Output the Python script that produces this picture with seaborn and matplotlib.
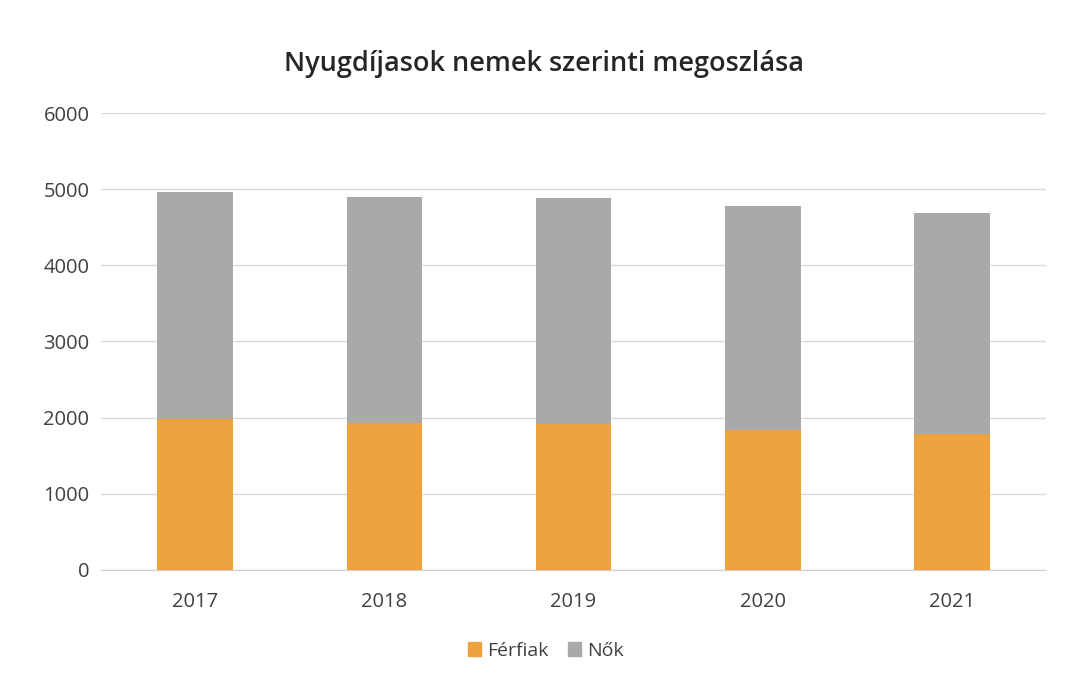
import pandas as pd
import numpy as np
import matplotlib
matplotlib.use('Agg')
import matplotlib.pyplot as plt
import seaborn as sns
from matplotlib.patches import Patch

# Data
years = ['2017', '2018', '2019', '2020', '2021']
ferfiak = [1980, 1930, 1910, 1840, 1780]
nok = [2980, 2970, 2970, 2940, 2910]

df = pd.DataFrame({'ev': years, 'Férfiak': ferfiak, 'Nők': nok})
df['osszes'] = df['Férfiak'] + df['Nők']

sns.set_style('white')
plt.rcParams['font.family'] = ['Open Sans', 'DejaVu Sans']

fig, ax = plt.subplots(figsize=(10.7, 6.85), dpi=100)
fig.subplots_adjust(left=0.094, right=0.978, top=0.835, bottom=0.168)

orange = '#EEA23F'
grey = '#A9A9A9'

# stacked: total in grey first, then men in orange on top
sns.barplot(data=df, x='ev', y='osszes', color=grey, width=0.4, saturation=1,
            linewidth=0, ax=ax)
sns.barplot(data=df, x='ev', y='Férfiak', color=orange, width=0.4, saturation=1,
            linewidth=0, ax=ax)

ax.set_ylim(0, 6000)
ax.set_yticks(np.arange(0, 6001, 1000))
ax.yaxis.grid(True, color='#DADADA', linewidth=1)
ax.set_axisbelow(True)
for s in ['top', 'right', 'left']:
    ax.spines[s].set_visible(False)
ax.spines['bottom'].set_color('#D0D0D0')
ax.set_xlabel('')
ax.set_ylabel('')
ax.tick_params(axis='y', length=0, labelsize=14.5, labelcolor='#404040', pad=8)
ax.tick_params(axis='x', length=0, labelsize=14.5, labelcolor='#404040', pad=16)

fig.suptitle('Nyugdíjasok nemek szerinti megoszlása', fontsize=19.5, fontweight='semibold',
             color='#262626', x=0.508, y=0.927)

handles = [Patch(color=orange, label='Férfiak'), Patch(color=grey, label='Nők')]
fig.legend(handles=handles, loc='center', bbox_to_anchor=(0.51, 0.05), ncol=2, frameon=False,
           fontsize=14, handlelength=0.7, handleheight=0.7, handletextpad=0.3, columnspacing=1.0,
           labelcolor='#404040')

plt.savefig('out.png', dpi=100)
